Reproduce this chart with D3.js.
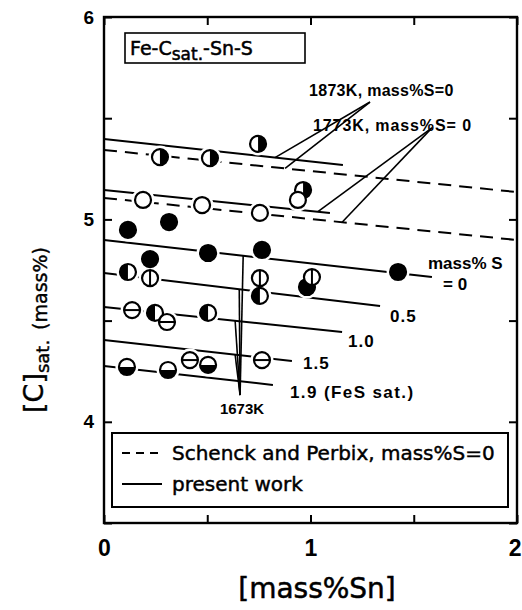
<!DOCTYPE html>
<html><head><meta charset="utf-8">
<script src="https://cdn.jsdelivr.net/npm/d3@7"></script>
<style>
html,body{margin:0;padding:0;background:#fff;}
svg{display:block;font-family:"Liberation Sans",Arial,sans-serif;}
.round{font-family:"DejaVu Sans","Liberation Sans",sans-serif;}
</style></head><body>
<svg id="chart" width="522" height="610"></svg>
<script>
// Axis ticks and labels
const snTicks = [0, 0.5, 1, 1.5, 2];
const snLabels = [0, 1, 2];
const cTicks = [3.5, 4, 4.5, 5, 5.5, 6];
const cLabels = [4, 5, 6];

// Measured saturation points: [mass%Sn, [C]sat mass%]
const pts1873S0 = [[0.271, 5.308], [0.513, 5.303], [0.746, 5.373], [0.964, 5.145]];
const pts1773S0 = [[0.189, 5.096], [0.475, 5.071], [0.755, 5.032], [0.939, 5.096]];
const pts1673S00 = [[0.116, 4.948], [0.315, 4.987], [0.223, 4.804], [0.504, 4.834], [0.765, 4.849], [1.424, 4.740], [0.983, 4.666]];
const pts1673S05 = [[0.223, 4.710], [0.755, 4.710], [1.007, 4.715]];
const pts1673S10 = [[0.116, 4.740], [0.247, 4.538], [0.504, 4.538], [0.755, 4.622]];
const pts1673S15 = [[0.136, 4.552], [0.305, 4.493], [0.416, 4.305], [0.765, 4.305]];
const pts1673S19 = [[0.111, 4.271], [0.310, 4.256], [0.504, 4.281]];

// Regression lines: [[Sn start, C start], [Sn end, C end]]
const schenck1873 = [[0, 5.343], [2, 5.135]];
const schenck1773 = [[0, 5.106], [2, 4.898]];
const present1873 = [[0, 5.397], [1.157, 5.269]];
const present1773 = [[0, 5.145], [1.094, 5.032]];
const present1673S00 = [[0, 4.898], [1.588, 4.715]];
const present1673S05 = [[0, 4.735], [1.337, 4.572]];
const present1673S10 = [[0, 4.567], [1.153, 4.444]];
const present1673S15 = [[0, 4.404], [0.910, 4.300]];
const present1673S19 = [[0, 4.276], [0.818, 4.182]];

const svg = d3.select("#chart");
const x = d3.scaleLinear().domain([0, 2]).range([104, 517]);
const y = d3.scaleLinear().domain([3.5, 6]).range([523, 17]);

const lineGen = d3.line().x(d => x(d[0])).y(d => y(d[1]));
const at = (ln, sn) => {
  const [[a0, b0], [a1, b1]] = ln;
  return [sn, b0 + (b1 - b0) * (sn - a0) / (a1 - a0)];
};

// Regression lines
const gLines = svg.append("g").attr("fill", "none").attr("stroke", "#000").attr("stroke-width", 2);
[schenck1873, schenck1773].forEach(ln =>
  gLines.append("path").attr("d", lineGen(ln)).attr("stroke-dasharray", "13,8"));
[present1873, present1773, present1673S00, present1673S05, present1673S10, present1673S15, present1673S19]
  .forEach(ln => gLines.append("path").attr("d", lineGen(ln)));

// Leader lines to annotations
const gLead = svg.append("g").attr("stroke", "#000").attr("stroke-width", 1.6).attr("fill", "none");
const leaders = [
  { apex: [1.288, 5.58], ends: [at(present1873, 0.828), at(schenck1873, 0.877)] },
  { apex: [1.588, 5.452], ends: [at(present1773, 1.036), at(schenck1773, 1.153)] },
  { apex: [0.659, 4.132], ends: [at(present1673S00, 0.674), at(present1673S05, 0.655), at(present1673S10, 0.635), at(present1673S15, 0.635), at(present1673S19, 0.655)] }
];
leaders.forEach(L => L.ends.forEach(e =>
  gLead.append("line").attr("x1", x(L.apex[0])).attr("y1", y(L.apex[1]))
    .attr("x2", x(e[0])).attr("y2", y(e[1]))));

// Markers
const R = 8;
const markerSets = [
  { pts: pts1873S0, kind: "right" },
  { pts: pts1773S0, kind: "open" },
  { pts: pts1673S00, kind: "filled" },
  { pts: pts1673S05, kind: "vbar" },
  { pts: pts1673S10, kind: "left" },
  { pts: pts1673S15, kind: "hbar" },
  { pts: pts1673S19, kind: "bottom" }
];
const gHalo = svg.append("g");
markerSets.forEach(s => s.pts.forEach(p =>
  gHalo.append("circle").attr("cx", x(p[0])).attr("cy", y(p[1])).attr("r", R + 3.5).attr("fill", "#fff")));

const gMark = svg.append("g");
function drawMarker(g, cx, cy, kind) {
  const m = g.append("g").attr("transform", `translate(${cx},${cy})`);
  m.append("circle").attr("r", R).attr("fill", kind === "filled" ? "#000" : "#fff");
  if (kind === "right") m.append("path").attr("d", `M0,${-R}A${R},${R} 0 0 1 0,${R}Z`).attr("fill", "#000");
  if (kind === "left") m.append("path").attr("d", `M0,${-R}A${R},${R} 0 0 0 0,${R}Z`).attr("fill", "#000");
  if (kind === "bottom") m.append("path").attr("d", `M${-R},0A${R},${R} 0 0 0 ${R},0Z`).attr("fill", "#000");
  if (kind === "vbar") m.append("line").attr("y1", -R).attr("y2", R).attr("stroke", "#000").attr("stroke-width", 2);
  if (kind === "hbar") m.append("line").attr("x1", -R).attr("x2", R).attr("stroke", "#000").attr("stroke-width", 2);
  m.append("circle").attr("r", R).attr("fill", "none").attr("stroke", "#000").attr("stroke-width", 2.2);
}
markerSets.forEach(s => s.pts.forEach(p => drawMarker(gMark, x(p[0]), y(p[1]), s.kind)));

// Axes (ticks point inward)
const fmt = d => (snLabels.includes(d) ? d3.format("d")(d) : "");
const fmtC = d => (cLabels.includes(d) ? d3.format("d")(d) : "");
const axB = svg.append("g").attr("transform", `translate(0,${y(3.5)})`)
  .call(d3.axisBottom(x).tickValues(snTicks).tickFormat(fmt).tickSizeInner(-8).tickSizeOuter(0).tickPadding(17));
const axT = svg.append("g").attr("transform", `translate(0,${y(6)})`)
  .call(d3.axisTop(x).tickValues(snTicks).tickFormat("").tickSizeInner(-8).tickSizeOuter(0));
const axL = svg.append("g").attr("transform", `translate(${x(0)},0)`)
  .call(d3.axisLeft(y).tickValues(cTicks).tickFormat(fmtC).tickSizeInner(-8).tickSizeOuter(0).tickPadding(10));
const axR = svg.append("g").attr("transform", `translate(${x(2)},0)`)
  .call(d3.axisRight(y).tickValues(cTicks).tickFormat("").tickSizeInner(-8).tickSizeOuter(0));
[axB, axT, axL, axR].forEach(a => {
  a.select(".domain").remove();
  a.selectAll("line").attr("stroke", "#000").attr("stroke-width", 2);
});
axB.selectAll("text").attr("font-size", 23).attr("font-weight", "bold").attr("fill", "#000");
// keep the last Sn label inside the page edge
axB.selectAll(".tick").filter(d => d === 2).select("text").attr("text-anchor", "end").attr("x", 4);
axL.selectAll("text").attr("font-size", 19).attr("font-weight", "bold").attr("fill", "#000");

// Plot frame
svg.append("rect").attr("x", x(0)).attr("y", y(6)).attr("width", x(2) - x(0)).attr("height", y(3.5) - y(6))
  .attr("fill", "none").attr("stroke", "#000").attr("stroke-width", 2.4);

// System label box
svg.append("rect").attr("x", 125).attr("y", 33).attr("width", 180).attr("height", 30)
  .attr("fill", "#fff").attr("stroke", "#000").attr("stroke-width", 1.6);
const sys = svg.append("text").attr("class", "round").attr("x", 130).attr("y", 55).attr("font-size", 19)
  .attr("stroke", "#000").attr("stroke-width", 0.5);
sys.append("tspan").text("Fe-C");
sys.append("tspan").attr("dy", 5).attr("font-size", 17).text("sat.");
sys.append("tspan").attr("dy", -5).text("-Sn-S");

// Annotations
const ann = svg.append("g").attr("font-weight", "bold").attr("fill", "#000");
ann.append("text").attr("x", 309).attr("y", 96).attr("font-size", 16).attr("letter-spacing", 0.3).text("1873K,  mass%S=0");
ann.append("text").attr("x", 313).attr("y", 131).attr("font-size", 16).attr("letter-spacing", 0.9).text("1773K,  mass%S= 0");
ann.append("text").attr("x", 428).attr("y", 269).attr("font-size", 17).text("mass% S");
ann.append("text").attr("x", 443).attr("y", 290).attr("font-size", 17).text("= 0");
ann.append("text").attr("x", 390).attr("y", 322).attr("font-size", 17).attr("letter-spacing", 1).text("0.5");
ann.append("text").attr("x", 348).attr("y", 347).attr("font-size", 17).attr("letter-spacing", 1).text("1.0");
ann.append("text").attr("x", 303).attr("y", 369).attr("font-size", 17).attr("letter-spacing", 1).text("1.5");
ann.append("text").attr("x", 290).attr("y", 398).attr("font-size", 17).attr("letter-spacing", 1.4).text("1.9 (FeS sat.)");
ann.append("text").attr("x", 242).attr("y", 414).attr("font-size", 15).attr("text-anchor", "middle").text("1673K");

// Legend
svg.append("rect").attr("x", 112).attr("y", 433).attr("width", 396).attr("height", 74)
  .attr("fill", "#fff").attr("stroke", "#000").attr("stroke-width", 2);
svg.append("line").attr("x1", 122).attr("x2", 162).attr("y1", 453).attr("y2", 453)
  .attr("stroke", "#000").attr("stroke-width", 2).attr("stroke-dasharray", "8,6");
svg.append("line").attr("x1", 122).attr("x2", 162).attr("y1", 484).attr("y2", 484)
  .attr("stroke", "#000").attr("stroke-width", 2);
const leg = svg.append("g").attr("class", "round").attr("font-size", 20).attr("stroke", "#000").attr("stroke-width", 0.45);
leg.append("text").attr("x", 172).attr("y", 460).text("Schenck and Perbix, mass%S=0");
leg.append("text").attr("x", 172).attr("y", 491).text("present  work");

// Axis titles
svg.append("text").attr("class", "round").attr("x", 317).attr("y", 598).attr("text-anchor", "middle")
  .attr("font-size", 28).attr("stroke", "#000").attr("stroke-width", 0.5).text("[mass%Sn]");
const yt = svg.append("text").attr("class", "round").attr("transform", "translate(43,413) rotate(-90)")
  .attr("font-size", 27).attr("stroke", "#000").attr("stroke-width", 0.4);
yt.append("tspan").text("[C]");
yt.append("tspan").attr("dy", 6).attr("font-size", 18).text("sat.");
yt.append("tspan").attr("dy", -2).attr("dx", 10).attr("font-size", 19).text("(mass%)");
</script>
</body></html>
